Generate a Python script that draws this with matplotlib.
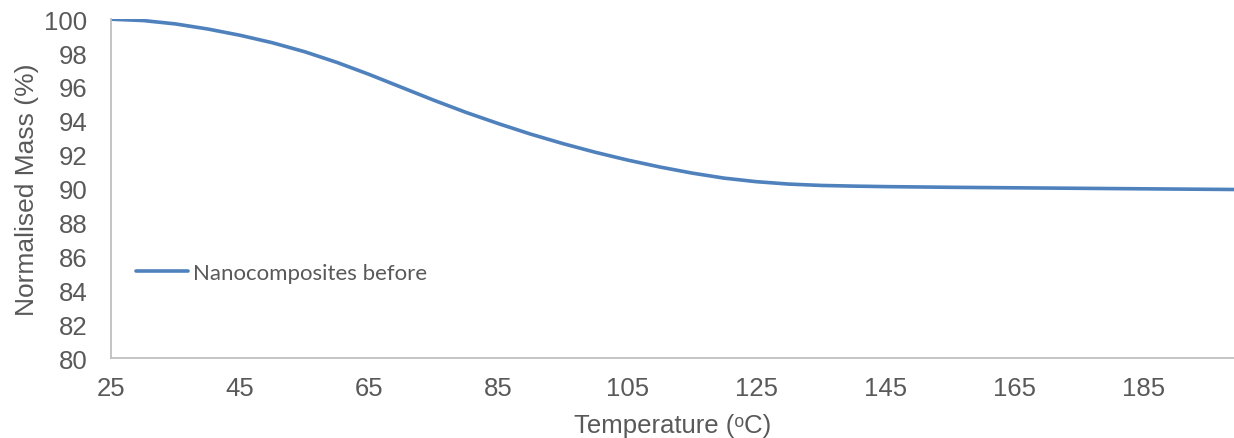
import matplotlib
matplotlib.use("Agg")
import matplotlib.pyplot as plt

# TGA curve
temperature = [25, 30, 35, 40, 45, 50, 55, 60, 65, 70, 75, 80, 85, 90, 95,
               100, 105, 110, 115, 120, 125, 130, 135, 140, 145, 155, 165,
               175, 185, 199]
mass = [100.0, 99.92, 99.72, 99.42, 99.05, 98.61, 98.08, 97.45, 96.74, 95.98,
        95.22, 94.50, 93.84, 93.22, 92.66, 92.15, 91.69, 91.28, 90.92, 90.62,
        90.41, 90.27, 90.19, 90.15, 90.12, 90.08, 90.05, 90.02, 89.99, 89.95]
series_name = "Nanocomposites before"
x_ticks = [25, 45, 65, 85, 105, 125, 145, 165, 185]
y_ticks = list(range(80, 101, 2))

plt.rcParams['font.family'] = ['Liberation Sans', 'DejaVu Sans']
grey = '#595959'
line_col = '#4F81BD'

fig = plt.figure(figsize=(12.34, 4.39), dpi=100)
ax = fig.add_axes([0.09, 0.182, 0.91, 0.772])

ax.plot(temperature, mass, color=line_col, lw=2.6, label=series_name,
        solid_capstyle='round', solid_joinstyle='round')

ax.set_xlim(25, 199)
ax.set_ylim(80, 100)
ax.set_xticks(x_ticks)
ax.set_yticks(y_ticks)
ax.tick_params(length=0, labelsize=18.5, colors=grey)
ax.tick_params(axis='x', pad=13)
ax.tick_params(axis='y', pad=17)

for s in ['top', 'right']:
    ax.spines[s].set_visible(False)
for s in ['left', 'bottom']:
    ax.spines[s].set_color('#BFBFBF')
    ax.spines[s].set_linewidth(1.3)

ax.set_ylabel("Normalised Mass (%)", fontsize=19, color=grey, labelpad=4)
ax.set_xlabel("Temperature (ᵒC)", fontsize=18.5, color=grey, labelpad=9)

lg = ax.legend(loc='center left', bbox_to_anchor=(0.004, 0.251), frameon=False,
               handlelength=2.35, handletextpad=0.22,
               prop={'family': ['Lato', 'DejaVu Sans'], 'size': 16})
for t in lg.get_texts():
    t.set_color(grey)

fig.savefig("out.png", dpi=100)
